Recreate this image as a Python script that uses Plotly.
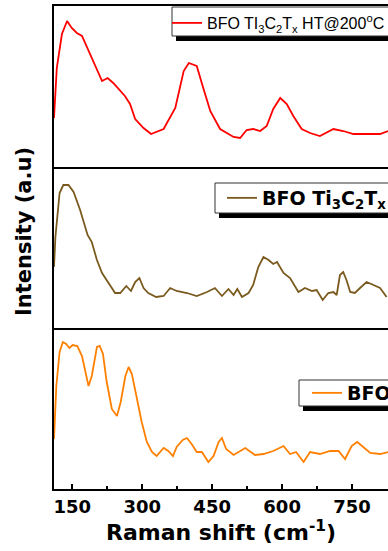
import plotly.graph_objects as go
from plotly.subplots import make_subplots

# ---- data (Raman shift in cm^-1, intensity in arbitrary units) ----
shift_ht = [111, 117, 128, 139, 149, 160, 171, 196, 214, 226, 238, 263, 274, 285, 303, 319,
            346, 371, 389, 400, 417, 431, 446, 467, 496, 510, 524, 538, 553, 567, 581, 596,
            610, 624, 642, 660, 681, 710, 731, 753, 781, 810, 827]
int_ht = [49, 99, 133, 146, 139, 134, 131, 104, 86, 89, 84, 71, 63, 48, 39, 33,
          38, 59, 96, 104, 101, 79, 56, 38, 30, 29, 37, 38, 36, 41, 58, 69,
          63, 51, 38, 34, 31, 38, 36, 33, 33, 33, 36]

shift_mx = [111, 114, 123, 131, 142, 153, 167, 183, 192, 203, 214, 224, 242, 253, 266, 276,
            285, 294, 303, 313, 330, 346, 360, 374, 396, 417, 439, 456, 471, 485, 496, 504,
            514, 528, 538, 549, 560, 571, 581, 589, 603, 617, 635, 649, 664, 674, 687, 699,
            710, 717, 724, 731, 738, 746, 756, 767, 781, 796, 810, 824]
int_mx = [61, 91, 135, 143, 143, 136, 118, 93, 86, 68, 55, 48, 35, 35, 42, 37,
          46, 50, 40, 35, 31, 32, 40, 37, 35, 32, 36, 40, 32, 39, 33, 39,
          31, 35, 43, 61, 71, 68, 64, 66, 55, 50, 36, 40, 37, 38, 28, 35,
          36, 33, 53, 56, 48, 36, 35, 40, 46, 43, 40, 31]

shift_bfo = [111, 116, 123, 130, 137, 144, 151, 161, 171, 178, 185, 192, 203, 209, 216, 224,
             235, 246, 254, 264, 271, 278, 289, 299, 310, 321, 331, 339, 346, 356, 366, 374,
             387, 396, 406, 417, 428, 442, 453, 464, 471, 480, 496, 521, 542, 560, 581, 603,
             617, 630, 646, 660, 681, 703, 721, 735, 749, 761, 774, 789, 810, 827]
int_bfo = [50, 103, 137, 147, 145, 141, 144, 143, 133, 117, 103, 113, 142, 143, 135, 107,
           80, 73, 87, 113, 122, 115, 90, 67, 47, 37, 33, 37, 41, 38, 33, 42,
           49, 51, 45, 37, 37, 27, 33, 47, 51, 40, 34, 41, 34, 35, 38, 43,
           35, 37, 27, 37, 35, 38, 38, 30, 43, 47, 42, 36, 35, 37]

names = ["BFO TI<sub>3</sub>C<sub>2</sub>T<sub>x</sub> HT@200<sup>o</sup>C",
         "<b>BFO Ti<sub>3</sub>C<sub>2</sub>T<sub>x</sub></b>",
         "<b>BFO</b>"]
colors = ["#FF0000", "#7A5A1E", "#FF8000"]
xticks = [150, 300, 450, 600, 750]

ARIAL = "Arial, Liberation Sans, sans-serif"
WIDE = "DejaVu Sans, Verdana, sans-serif"

fig = make_subplots(rows=3, cols=1, shared_xaxes=True, vertical_spacing=0)

series = [(shift_ht, int_ht), (shift_mx, int_mx), (shift_bfo, int_bfo)]
legends = ["legend", "legend2", "legend3"]
for i, (xs, ys) in enumerate(series):
    fig.add_trace(go.Scatter(x=xs, y=ys, mode="lines", name=names[i],
                             line=dict(color=colors[i], width=1.8),
                             legend=legends[i]), row=i + 1, col=1)

W, H = 388, 551
ml, mr, mt, mb = 54, 0, 6, 62
pw, ph = W - ml - mr, H - mt - mb

def px(x):
    return (x - ml) / pw

def py(y):
    return (H - mb - y) / ph

axis_common = dict(range=[111, 827], showline=True, linecolor="black", linewidth=2,
                   showgrid=False, zeroline=False, automargin=False)
fig.update_xaxes(**axis_common)
fig.update_xaxes(mirror=True, ticks="", showticklabels=False, row=1, col=1)
fig.update_xaxes(ticks="", showticklabels=False, row=2, col=1)
fig.update_xaxes(ticks="inside", ticklen=5, tickwidth=1.5, tickcolor="black",
                 tickvals=xticks, showticklabels=True, tickangle=0,
                 tickfont=dict(family=WIDE, size=18, color="black", weight="bold"),
                 minor=dict(ticks="inside", ticklen=3, tickwidth=1.5, tickcolor="black",
                            dtick=75, tick0=0),
                 title=dict(text="Raman shift (cm<sup>-1</sup>)", standoff=4,
                            font=dict(family=WIDE, size=22, color="black", weight="bold")),
                 row=3, col=1)
fig.update_yaxes(range=[0, 161], showline=True, linecolor="black", linewidth=2,
                 ticks="", showticklabels=False, showgrid=False, zeroline=False)

# legend frames (box + drop shadow) run past the cropped right edge
frames = [  # (box left, box top, box bottom) in pixels
    (172, 7, 36),
    (215, 183, 213),
    (299, 380, 406),
]
for (bx, bt, bb) in frames:
    fig.add_shape(type="rect", xref="paper", yref="paper",
                  x0=px(bx + 4), x1=1.5, y0=py(bb + 5), y1=py(bt + 5),
                  fillcolor="black", line=dict(width=0), layer="above")
    fig.add_shape(type="rect", xref="paper", yref="paper",
                  x0=px(bx), x1=1.5, y0=py(bb), y1=py(bt),
                  fillcolor="white", line=dict(color="#333333", width=1), layer="above")

legend_style = dict(bgcolor="rgba(0,0,0,0)", borderwidth=0,
                    xanchor="left", yanchor="middle", itemclick=False)
fig.update_layout(
    legend=dict(x=px(167), y=py(23), font=dict(family=ARIAL, size=16, color="black"), **legend_style),
    legend2=dict(x=px(222), y=py(198), font=dict(family=WIDE, size=19, color="black"), **legend_style),
    legend3=dict(x=px(307), y=py(393), font=dict(family=WIDE, size=19, color="black"), **legend_style),
)

fig.add_annotation(text="Intensity (a.u)", xref="paper", yref="paper",
                   x=px(24), y=py(232), textangle=-90, showarrow=False,
                   xanchor="center", yanchor="middle",
                   font=dict(family=WIDE, size=21, color="black", weight="bold"))

fig.update_layout(width=W, height=H,
                  margin=dict(l=ml, r=mr, t=mt, b=mb, autoexpand=False),
                  paper_bgcolor="white", plot_bgcolor="white", showlegend=True,
                  font=dict(family=ARIAL))

fig.write_html("out.html", config={"displayModeBar": False})
